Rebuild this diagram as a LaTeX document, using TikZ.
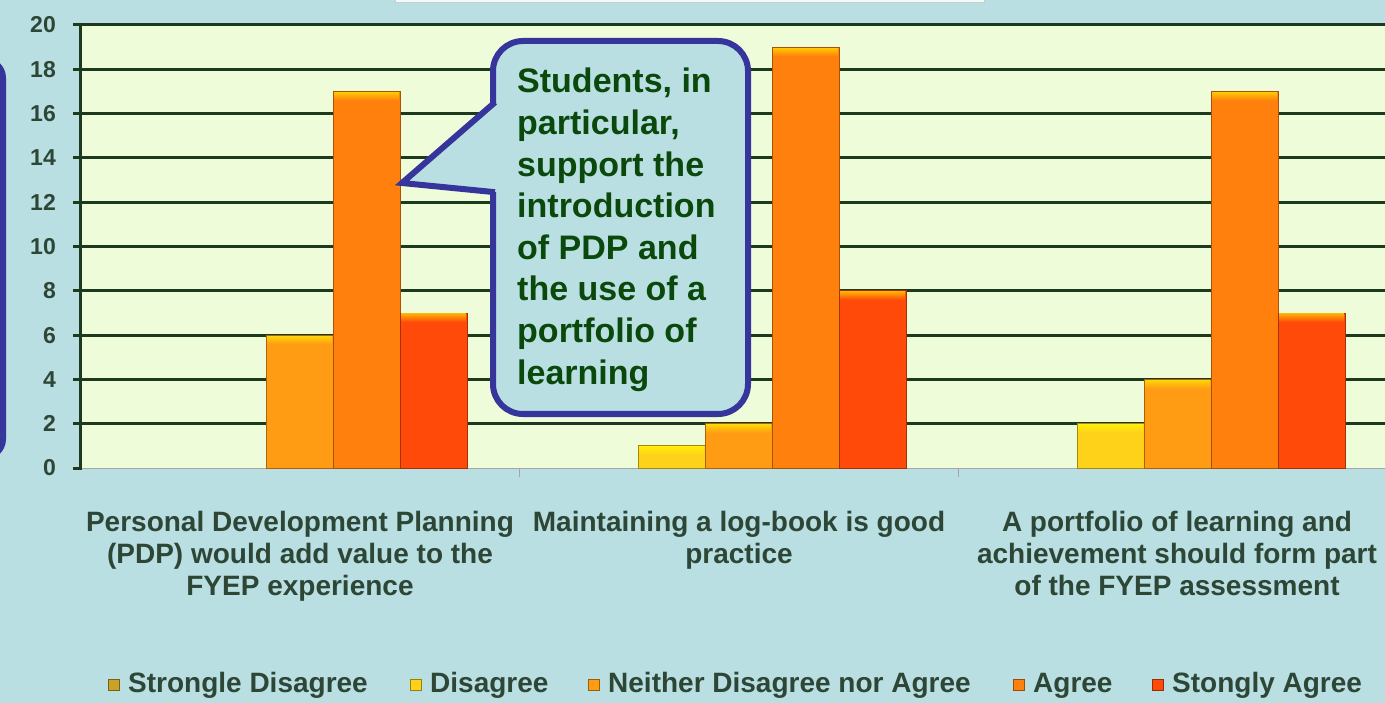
\documentclass[tikz,border=0pt]{standalone}
\usepackage{fontspec}
\setmainfont{Liberation Sans}
\definecolor{bg}{HTML}{B9DFE3}
\definecolor{plotbg}{HTML}{EEFCDA}
\definecolor{gridc}{HTML}{1E3A1E}
\definecolor{txt}{HTML}{2E4636}
\definecolor{ctxt}{HTML}{0B480B}
\definecolor{cblue}{HTML}{35359B}
\definecolor{cSD}{HTML}{C9A227}
\definecolor{cD}{HTML}{FFD21A}
\definecolor{cN}{HTML}{FF9C14}
\definecolor{cA}{HTML}{FF800C}
\definecolor{cSA}{HTML}{FF4A0A}
\tikzset{
  gridline/.style={draw=gridc, line width=3pt},
  ylab/.style={font=\fontsize{23}{26}\bfseries\selectfont, text=txt, inner sep=0pt, anchor=east},
  catlab/.style={font=\fontsize{28}{32}\bfseries\selectfont, text=txt, inner sep=0pt, anchor=base},
  leglab/.style={font=\fontsize{28}{32}\bfseries\selectfont, text=txt, inner sep=0pt, anchor=base west},
  calltext/.style={font=\fontsize{34}{41}\bfseries\selectfont, text=ctxt, inner sep=0pt, anchor=base west},
  legmark/.style={line width=0.8pt},
  calloutline/.style={draw=cblue, line width=6pt},
}
\begin{document}
\begin{tikzpicture}[x=1pt,y=-1pt]
\useasboundingbox (0,0) rectangle (1385,703);
\fill[bg] (0,0) rectangle (1385,703);
% partial box at top
\filldraw[fill=white!85!bg, draw=white!60!gray, line width=1pt] (395,-10) rectangle (984,3);
% partial blue box at left
\draw[calloutline, rounded corners=18pt] (-300,60) rectangle (3,457);
% plot area
\fill[plotbg] (80,25) rectangle (1385,468);
\foreach \v in {2,4,...,20} {
  \draw[gridline] (73,{468-\v*22.15}) -- (1385,{468-\v*22.15});
}
\draw[gray!70, line width=0.8pt] (80,468) -- (1385,468);
\draw[gray!70, line width=1pt] (519.5,468) -- (519.5,477);
\draw[gray!70, line width=1pt] (958.5,468) -- (958.5,477);
\draw[gridline] (80,25) -- (80,468) -- (73,468);
\foreach \v in {0,2,...,20} {
  \node[ylab] (y\v) at (56,{468-\v*22.15}) {\v};
}
% bars
\foreach \x/\v/\c in {266/6/cN, 333/17/cA, 400/7/cSA,
                      638/1/cD, 705/2/cN, 772/19/cA, 839/8/cSA,
                      1077/2/cD, 1144/4/cN, 1211/17/cA, 1278/7/cSA} {
  \filldraw[fill=\c, draw=\c!65!black, line width=0.8pt] (\x,468) rectangle ({\x+67},{468-\v*22.15});
  \shade[top color=\c!45!yellow, bottom color=\c] ({\x+1},{468-\v*22.15+1}) rectangle ({\x+66},{468-\v*22.15+9});
}
% callout
\filldraw[calloutline, fill=bg, rounded corners=30pt] (493,41) rectangle (748,414);
\coordinate (ptip) at (402,183);
\coordinate (pup) at (495,102.3);
\coordinate (plow) at (495,192.2);
\fill[bg] (ptip) -- (493,104) -- (499,104) -- (499,192) -- (493,192) -- cycle;
\draw[calloutline, line join=miter] (pup) -- (ptip) -- (plow);
\foreach \t [count=\i from 0] in {{Students, in},{particular,},{support the},{introduction},{of PDP and},{the use of a},{portfolio of},{learning}} {
  \node[calltext] (c\i) at (517,{93+\i*41.6}) {\t};
}
% category labels
\node[catlab] (l11) at (300,531) {Personal Development Planning};
\node[catlab] (l12) at (300,563) {(PDP) would add value to the};
\node[catlab] (l13) at (300,595) {FYEP experience};
\node[catlab] (l21) at (739,531) {Maintaining a log-book is good};
\node[catlab] (l22) at (739,563) {practice};
\node[catlab] (l31) at (1177,531) {A portfolio of learning and};
\node[catlab] (l32) at (1177,563) {achievement should form part};
\node[catlab] (l33) at (1177,595) {of the FYEP assessment};
% legend
\foreach \s/\c/\t [count=\i] in {128/cSD/Strongle Disagree, 430/cD/Disagree, 608/cN/Neither Disagree nor Agree, 1033/cA/Agree, 1172/cSA/Stongly Agree} {
  \filldraw[legmark, fill=\c, draw=\c!60!black] ({\s-20},679) rectangle ({\s-9},690);
  \node[leglab] (g\i) at (\s,692) {\t};
}
\end{tikzpicture}
\end{document}
